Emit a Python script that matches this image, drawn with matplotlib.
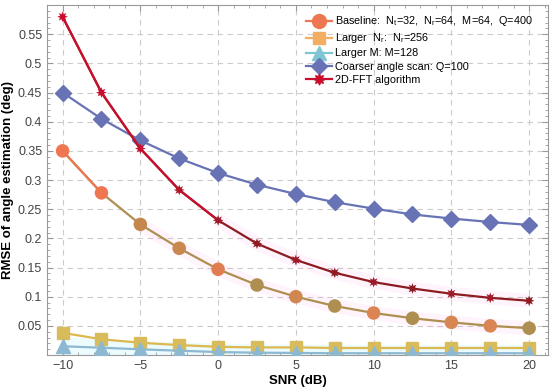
import matplotlib
matplotlib.use("Agg")
import matplotlib.pyplot as plt
from matplotlib.ticker import MultipleLocator, FuncFormatter
from matplotlib.lines import Line2D

plt.rcParams['font.family'] = ['Liberation Sans', 'DejaVu Sans']
plt.rcParams['mathtext.fontset'] = 'custom'
plt.rcParams['mathtext.rm'] = 'Liberation Sans'
plt.rcParams['mathtext.it'] = 'Liberation Sans'

snr = [-10, -7.5, -5, -2.5, 0, 2.5, 5, 7.5, 10, 12.5, 15, 17.5, 20]
baseline = [0.35, 0.278, 0.224, 0.183, 0.147, 0.120, 0.100, 0.084, 0.072, 0.063, 0.056, 0.050, 0.046]
larger_nr = [0.038, 0.027, 0.021, 0.017, 0.014, 0.013, 0.013, 0.012, 0.012, 0.012, 0.012, 0.012, 0.012]
larger_m = [0.015, 0.0125, 0.0097, 0.0074, 0.005, 0.004, 0.0035, 0.003, 0.003, 0.003, 0.003, 0.003, 0.003]
coarser = [0.45, 0.405, 0.368, 0.337, 0.312, 0.292, 0.276, 0.262, 0.251, 0.241, 0.234, 0.228, 0.223]
fft2d = [0.58, 0.45, 0.354, 0.283, 0.231, 0.191, 0.163, 0.141, 0.125, 0.114, 0.105, 0.098, 0.093]

labels = [
    r"Baseline:  N$_\mathrm{t}$=32,  N$_\mathrm{r}$=64,  M=64,  Q=400",
    r"Larger  N$_\mathrm{r}$:  N$_\mathrm{r}$=256",
    "Larger M: M=128",
    "Coarser angle scan: Q=100",
    "2D-FFT algorithm",
]

ORANGE = '#EE7752'
OLIVE = '#AE8F50'
base_marker_colors = [ORANGE, ORANGE, '#C4884E', '#C8884E', '#E07E52', OLIVE, '#D08750',
                      OLIVE, '#DC8454', OLIVE, '#D88652', '#DA8554', OLIVE]
fft_marker_colors = ['#C8102E', '#C8102E', '#C8102E', '#B01528', '#A0182A', '#8E1B22', '#A0182A',
                     '#8E1B22', '#A0182A', '#8E1B22', '#A0182A', '#A0182A', '#8E1B22']

fig = plt.figure(figsize=(5.5, 3.92), dpi=100)
ax = fig.add_axes([0.0855, 0.0944, 0.9105, 0.8926])

lw = 1.6
# faint highlight bands (rendering tint in the original)
ax.plot(snr[2:], baseline[2:], color='#FF66DD', lw=10, alpha=0.07, solid_capstyle='butt', zorder=2)
ax.plot(snr[4:], fft2d[4:], color='#FF66DD', lw=10, alpha=0.07, solid_capstyle='butt', zorder=2)
ax.plot(snr, larger_m, color='#66E0F0', lw=12, alpha=0.12, solid_capstyle='butt', zorder=2)

ax.plot(snr, coarser, color='#6873B5', lw=lw, marker='D', ms=8.5, zorder=3)
ax.plot(snr, larger_nr, color='#DDB84E', lw=lw, marker='s', ms=8, mfc='#D8BC5C', mec='#D8BC5C', zorder=3)
ax.plot(snr, larger_m, color='#8DB8D2', lw=lw, marker='^', ms=9.5, zorder=3)
ax.plot(snr, baseline, color=OLIVE, lw=lw, zorder=3)
ax.plot(snr[:2], baseline[:2], color=ORANGE, lw=lw, zorder=3)
ax.scatter(snr, baseline, s=95, c=base_marker_colors, marker='o', zorder=4, linewidths=0)
ax.plot(snr, fft2d, color='#8E1B22', lw=lw, zorder=4)
ax.plot(snr[:5], fft2d[:5], color='#C8102E', lw=lw, zorder=4)
ax.scatter(snr, fft2d, s=60, c=fft_marker_colors, marker=(8, 1, 0), zorder=5, linewidths=0)

handles = [
    Line2D([], [], color=ORANGE, lw=lw, marker='o', ms=10),
    Line2D([], [], color='#F2AE62', lw=lw, marker='s', ms=8),
    Line2D([], [], color='#7FC6D2', lw=lw, marker='^', ms=9.5),
    Line2D([], [], color='#6873B5', lw=lw, marker='D', ms=8.5),
    Line2D([], [], color='#C8102E', lw=lw, marker=(8, 1, 0), ms=8),
]
ax.legend(handles, labels, loc='upper right', bbox_to_anchor=(0.985, 0.995), frameon=False,
          fontsize=7.8, handlelength=2.4, handletextpad=0.2, labelspacing=0.28,
          borderaxespad=0.3)

ax.set_xlim(-11, 21.2)
ax.set_ylim(0, 0.6)
ax.xaxis.set_major_locator(MultipleLocator(5))
ax.xaxis.set_minor_locator(MultipleLocator(1))
ax.set_yticks([0.05 * i for i in range(1, 12)])
ax.yaxis.set_minor_locator(MultipleLocator(0.01))
ax.yaxis.set_major_formatter(FuncFormatter(lambda v, p: f"{v:g}"))
ax.xaxis.set_major_formatter(FuncFormatter(lambda v, p: f"{v:g}".replace('-', '\u2212')))

ax.tick_params(which='both', direction='in', top=True, right=True, colors='#999999',
               labelcolor='#444444', labelsize=9)
ax.tick_params(which='major', length=4)
ax.tick_params(which='minor', length=2)
for s in ax.spines.values():
    s.set_color('#999999')
    s.set_linewidth(0.8)

ax.grid(True, which='major', ls=(0, (5, 4)), color='#CCCCCC', lw=0.8)
ax.set_axisbelow(True)

ax.set_xlabel('SNR (dB)', fontsize=9.5, fontweight='bold', labelpad=2)
ax.set_ylabel('RMSE of angle estimation (deg)', fontsize=9.5, fontweight='bold', labelpad=3)

fig.savefig('out.png', dpi=100)
